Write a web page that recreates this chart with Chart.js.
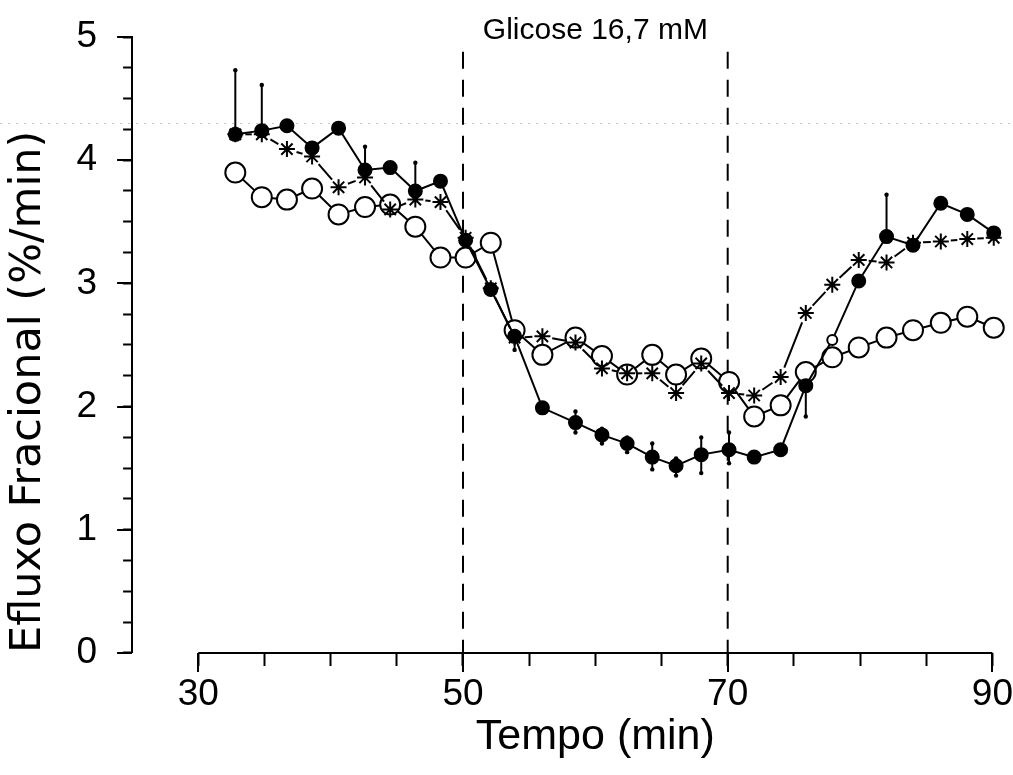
<!DOCTYPE html>
<html>
<head>
<meta charset="utf-8">
<title>Efluxo fracional</title>
<script src="https://cdn.jsdelivr.net/npm/chart.js@4.4.1/dist/chart.umd.min.js"></script>
<style>
  html, body { margin: 0; padding: 0; background: #fff; }
  canvas { display: block; }
</style>
</head>
<body>
<canvas id="efluxoChart" width="1013" height="775"></canvas>
<script>
// tempo de cada coleta (min)
const tempo = [32.8, 34.8, 36.7, 38.6, 40.6, 42.6, 44.5, 46.4, 48.3, 50.2,
               52.1, 53.9, 56.0, 58.5, 60.5, 62.4, 64.3, 66.1, 68.0, 70.1,
               72.0, 74.0, 75.9, 77.9, 79.9, 82.0, 84.0, 86.1, 88.1, 90.1];

// circulos cheios (com erro)
const efluxoCheio = [4.21, 4.24, 4.28, 4.10, 4.26, 3.92, 3.94, 3.75, 3.83, 3.35,
                     2.95, 2.57, 1.99, 1.87, 1.77, 1.70, 1.59, 1.52, 1.61, 1.65,
                     1.59, 1.65, 2.17, 2.54, 3.02, 3.38, 3.31, 3.65, 3.56, 3.41];
const erroAcima = [0.52, 0.37, 0, 0, 0, 0.19, 0, 0.23, 0, 0,
                   0, 0, 0, 0.09, 0.05, 0.05, 0.11, 0.06, 0.14, 0.14,
                   0, 0, 0, 0, 0, 0.34, 0, 0, 0, 0];
const erroAbaixo = [0, 0, 0, 0, 0, 0, 0, 0, 0, 0,
                    0, 0.11, 0, 0.08, 0.07, 0.07, 0.10, 0.08, 0.15, 0.11,
                    0, 0, 0.25, 0, 0, 0, 0, 0, 0, 0];

// circulos abertos
const efluxoAberto = [3.90, 3.70, 3.68, 3.77, 3.56, 3.62, 3.64, 3.46, 3.21, 3.21,
                      3.33, 2.62, 2.42, 2.56, 2.41, 2.26, 2.42, 2.26, 2.39, 2.20,
                      1.92, 2.01, 2.28, 2.40, 2.48, 2.56, 2.62, 2.68, 2.73, 2.64];

// asteriscos
const efluxoAsterisco = [4.21, 4.21, 4.09, 4.03, 3.78, 3.86, 3.60, 3.68, 3.66, 3.37,
                         2.96, 2.56, 2.57, 2.52, 2.31, 2.27, 2.27, 2.11, 2.35, 2.11,
                         2.09, 2.24, 2.76, 2.99, 3.19, 3.17, 3.33, 3.34, 3.36, 3.37];

// periodo com glicose 16,7 mM
const glicoseInicio = 50;
const glicoseFim = 70;
const topoTracejado = 4.88;
const glicoseTexto = 'Glicose 16,7 mM';
const tituloX = 'Tempo (min)';
const tituloY = 'Efluxo Fracional (%/min)';

const xRotulos = [30, 50, 70, 90];
const linhaScanner = 4.3;

const pontos = arr => tempo.map((t, i) => ({ x: t, y: arr[i] }));

const extrasPlugin = {
    id: 'extras',
    beforeDatasetsDraw(chart) {
        const { ctx, scales: { y } } = chart;
        const yy = Math.round(y.getPixelForValue(linhaScanner)) + 0.5;
        ctx.save();
        ctx.strokeStyle = '#c6c6c6';
        ctx.lineWidth = 1;
        ctx.setLineDash([2, 6]);
        ctx.beginPath();
        ctx.moveTo(0, yy);
        ctx.lineTo(chart.width, yy);
        ctx.stroke();
        ctx.restore();
    },
    afterDatasetsDraw(chart) {
        const { ctx, scales: { y } } = chart;
        const meta = chart.getDatasetMeta(1);
        ctx.save();
        ctx.strokeStyle = '#000';
        ctx.fillStyle = '#000';
        ctx.lineWidth = 2;
        meta.data.forEach((pt, i) => {
            [[erroAcima[i], 1], [erroAbaixo[i], -1]].forEach(([e, s]) => {
                if (!e) return;
                const yEnd = y.getPixelForValue(efluxoCheio[i] + s * e);
                ctx.beginPath();
                ctx.moveTo(pt.x, pt.y);
                ctx.lineTo(pt.x, yEnd);
                ctx.stroke();
                ctx.beginPath();
                ctx.arc(pt.x, yEnd, 2.2, 0, Math.PI * 2);
                ctx.fill();
            });
        });
        ctx.restore();
    },
    afterDraw(chart) {
        const { ctx, chartArea, scales: { x, y } } = chart;
        ctx.save();
        ctx.strokeStyle = '#000';
        ctx.lineWidth = 2;

        // eixo x (comeca em 30)
        const yBase = y.getPixelForValue(0);
        ctx.beginPath();
        ctx.moveTo(x.getPixelForValue(xRotulos[0]), yBase);
        ctx.lineTo(x.getPixelForValue(xRotulos[xRotulos.length - 1]), yBase);
        ctx.stroke();

        // ticks maiores
        xRotulos.forEach(v => {
            const px = Math.round(x.getPixelForValue(v));
            ctx.beginPath();
            ctx.moveTo(px, yBase);
            ctx.lineTo(px, yBase + 19);
            ctx.stroke();
        });
        for (let v = 0; v <= 5; v++) {
            const py = Math.round(y.getPixelForValue(v));
            ctx.beginPath();
            ctx.moveTo(chartArea.left - 15, py);
            ctx.lineTo(chartArea.left, py);
            ctx.stroke();
        }

        const xMeio = x.getPixelForValue((glicoseInicio + glicoseFim) / 2);
        ctx.fillStyle = '#000';
        ctx.textAlign = 'center';
        ctx.textBaseline = 'middle';
        ctx.font = '30px "Liberation Sans", Arial, sans-serif';
        ctx.fillText(glicoseTexto, xMeio, chartArea.top - 6);
        ctx.font = '43px "Liberation Sans", Arial, sans-serif';
        ctx.fillText(tituloX, xMeio, chartArea.bottom + 84);
        ctx.restore();
    }
};

const ctx = document.getElementById('efluxoChart').getContext('2d');

new Chart(ctx, {
    type: 'scatter',
    data: {
        datasets: [
            {
                data: pontos(efluxoAsterisco),
                showLine: true,
                borderColor: '#000',
                borderWidth: 2,
                pointStyle: 'star',
                pointRadius: 8,
                pointBorderWidth: 2,
                pointBorderColor: '#000',
                clip: false,
                segment: {
                    // linha interrompida perto de cada asterisco
                    borderDash: c => {
                        const len = Math.hypot(c.p1.x - c.p0.x, c.p1.y - c.p0.y);
                        const gap = 10;
                        return len > 2 * gap + 3 ? [0, gap, len - 2 * gap, len + 50] : [0, len + 50];
                    }
                }
            },
            {
                data: pontos(efluxoCheio),
                showLine: true,
                borderColor: '#000',
                borderWidth: 2,
                pointStyle: 'circle',
                pointRadius: c => c.dataIndex === 23 ? 5 : 6.5,
                pointBorderWidth: 2,
                pointBorderColor: '#000',
                pointBackgroundColor: c => c.dataIndex === 23 ? '#fff' : '#000',
                clip: false
            },
            {
                data: pontos(efluxoAberto),
                showLine: true,
                borderColor: '#000',
                borderWidth: 2,
                pointStyle: 'circle',
                pointRadius: 10,
                pointBorderWidth: 2,
                pointBorderColor: '#000',
                pointBackgroundColor: '#fff',
                clip: false
            },
            {
                data: [{ x: glicoseInicio, y: topoTracejado }, { x: glicoseInicio, y: 0 }],
                showLine: true,
                borderColor: '#000',
                borderWidth: 2,
                borderDash: [17, 11],
                pointRadius: 0
            },
            {
                data: [{ x: glicoseFim, y: topoTracejado }, { x: glicoseFim, y: 0 }],
                showLine: true,
                borderColor: '#000',
                borderWidth: 2,
                borderDash: [17, 11],
                pointRadius: 0
            }
        ]
    },
    options: {
        responsive: false,
        animation: false,
        events: [],
        layout: {
            padding: { top: 37, bottom: 51, left: 0, right: 0 }
        },
        plugins: {
            legend: { display: false },
            tooltip: { enabled: false }
        },
        scales: {
            x: {
                type: 'linear',
                min: 25,
                max: 90,
                border: { display: false },
                grid: {
                    drawOnChartArea: false,
                    tickLength: 13,
                    tickWidth: 2,
                    tickColor: c => (c.tick && c.tick.value < xRotulos[0]) ? 'rgba(0,0,0,0)' : '#000'
                },
                ticks: {
                    stepSize: 5,
                    autoSkip: false,
                    maxRotation: 0,
                    padding: 0,
                    color: '#000',
                    font: { family: '"Liberation Sans", Arial, sans-serif', size: 37, lineHeight: 1.568 },
                    callback: v => xRotulos.includes(v) ? String(v) : ''
                }
            },
            y: {
                min: 0,
                max: 5,
                border: { display: true, color: '#000', width: 2 },
                grid: {
                    drawOnChartArea: false,
                    tickLength: 9,
                    tickWidth: 2,
                    tickColor: '#000'
                },
                ticks: {
                    stepSize: 0.25,
                    autoSkip: false,
                    padding: 26,
                    color: '#000',
                    font: { family: '"Liberation Sans", Arial, sans-serif', size: 37, lineHeight: 0.5 },
                    callback: v => Number.isInteger(v) ? String(v) : ''
                },
                title: {
                    display: true,
                    align: 'start',
                    text: tituloY,
                    color: '#000',
                    font: { family: '"DejaVu Sans", sans-serif', size: 43, lineHeight: 1 },
                    padding: { top: 7.5, bottom: 0 }
                }
            }
        }
    },
    plugins: [extrasPlugin]
});
</script>
</body>
</html>
